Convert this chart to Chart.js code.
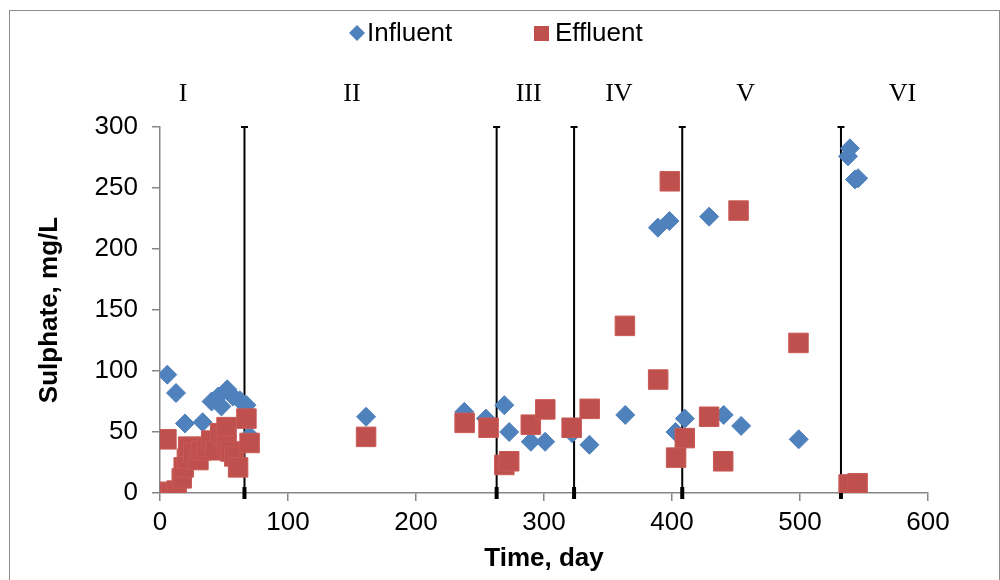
<!DOCTYPE html>
<html>
<head>
<meta charset="utf-8">
<script src="https://cdn.jsdelivr.net/npm/chart.js@4.4.0/dist/chart.umd.min.js"></script>
<style>
  html, body { margin: 0; padding: 0; background: #fff; }
  #wrap { width: 1000px; height: 580px; position: relative; }
</style>
</head>
<body>
<div id="wrap"><canvas id="sulphateChart"></canvas></div>
<script>
// influent sulphate (diamonds)
const influentDays = [5.7, 12.5, 19.5, 33.3, 40.3, 45.4, 48, 52.5, 57.1, 62.4, 67.6, 70,
    161, 237.7, 254.6, 269, 272.8, 289.7, 300.9, 322, 335.5, 363.5,
    389, 398, 402.7, 410, 429, 440.4, 454, 499, 537.5, 539, 543, 545.4];
const influentValues = [97, 82, 57, 58, 75, 79, 71, 85, 79, 76, 72, 47,
    62.5, 66.5, 61, 72, 50, 42, 42, 49, 39.5, 64,
    217.5, 223, 50, 61, 226.5, 64, 55, 44, 276, 282.5, 257, 258];

// effluent sulphate (squares)
const effluentDays = [1.5, 4, 9, 13, 17, 18.5, 5, 21, 22, 26, 30, 32.5, 36.5, 40, 43, 47, 50, 52, 52, 55, 58, 61, 67.5, 70,
    161, 238, 256.7, 269, 272.8, 289.7, 301, 321.6, 335.7, 363.2, 389.2, 398.3, 403.2, 410, 429, 440, 452, 498.8, 538, 545];
const effluentValues = [1, 0, 0, 2, 12, 21, 44, 28, 38, 33, 27, 35, 38, 43, 35, 49, 46, 54, 39, 34, 30, 21, 61, 41,
    46, 57.5, 53.5, 23, 26, 56, 68.5, 53.5, 69, 137, 93, 255.5, 29, 45, 62.5, 26, 231.5, 123, 7, 8];

// operating phases
const phaseBoundaries = [66, 263, 323.5, 408, 532];
const phaseLabels = ['I', 'II', 'III', 'IV', 'V', 'VI'];
const phaseLabelDays = [18, 150, 288, 358.5, 457.5, 580];

const BLUE = '#4F81BD';
const RED = '#C0504D';
const AXIS = '#868686';
const SANS = '"Liberation Sans", Arial, sans-serif';
const SERIF = '"Liberation Serif", "Times New Roman", serif';

function toPoints(xs, ys) {
    return xs.map(function (x, i) { return { x: x, y: ys[i] }; });
}

const datasets = [
    {
        label: 'Influent',
        data: toPoints(influentDays, influentValues),
        pointStyle: 'rectRot',
        pointRadius: 9.5,
        pointHoverRadius: 9.5,
        backgroundColor: BLUE,
        borderColor: BLUE,
        borderWidth: 1,
        order: 2
    },
    {
        label: 'Effluent',
        data: toPoints(effluentDays, effluentValues),
        pointStyle: 'rect',
        pointRadius: 13.8,
        pointHoverRadius: 13.8,
        backgroundColor: RED,
        borderColor: '#C85A57',
        borderWidth: 1,
        order: 1
    }
];

// vertical phase separators, bottom point drawn as a short thick tick
phaseBoundaries.forEach(function (d) {
    datasets.push({
        type: 'line',
        label: '',
        data: [{ x: d, y: 0 }, { x: d, y: 300 }],
        borderColor: '#000',
        borderWidth: 2,
        pointStyle: 'line',
        pointRadius: [6, 3.5],
        pointRotation: [90, 0],
        pointBorderWidth: [4, 2],
        pointBorderColor: '#000',
        clip: false,
        order: 3
    });
});

const decorPlugin = {
    id: 'decor',
    beforeDraw: function (chart) {
        const c = chart.ctx;
        c.save();
        c.fillStyle = '#fff';
        c.fillRect(0, 0, chart.width, chart.height);
        c.restore();
    },
    afterDraw: function (chart) {
        const c = chart.ctx;
        const xs = chart.scales.x;
        c.save();

        // outer frame
        c.strokeStyle = '#8c8c8c';
        c.lineWidth = 1;
        c.strokeRect(9.5, 10.5, 990, 600);

        // legend
        const inf = chart.data.datasets[0];
        const eff = chart.data.datasets[1];
        c.fillStyle = inf.backgroundColor;
        c.beginPath();
        c.moveTo(357, 25); c.lineTo(365, 33); c.lineTo(357, 41); c.lineTo(349, 33);
        c.closePath();
        c.fill();
        c.fillStyle = eff.backgroundColor;
        c.fillRect(534, 26, 15, 15);
        c.fillStyle = '#000';
        c.font = '26px ' + SANS;
        c.textBaseline = 'middle';
        c.textAlign = 'left';
        c.fillText(inf.label, 367, 34);
        c.fillText(eff.label, 555, 34);

        // phase labels
        c.font = '26px ' + SERIF;
        c.textAlign = 'center';
        phaseLabels.forEach(function (t, i) {
            c.fillText(t, xs.getPixelForValue(phaseLabelDays[i]), 94);
        });
        c.restore();
    }
};

const ctx = document.getElementById('sulphateChart').getContext('2d');
const sulphateChart = new Chart(ctx, {
    type: 'scatter',
    data: { datasets: datasets },
    plugins: [decorPlugin],
    options: {
        responsive: true,
        maintainAspectRatio: false,
        animation: false,
        events: [],
        layout: { padding: { left: 30, right: 72, top: 127, bottom: 2 } },
        plugins: {
            legend: { display: false },
            tooltip: { enabled: false }
        },
        scales: {
            x: {
                type: 'linear',
                min: 0,
                max: 600,
                ticks: {
                    stepSize: 100,
                    color: '#000',
                    font: { family: SANS, size: 26 },
                    padding: 6,
                    maxRotation: 0
                },
                grid: { drawOnChartArea: false, drawTicks: true, tickLength: 8, color: AXIS, lineWidth: 1.5 },
                border: { color: AXIS, width: 1.5 },
                title: {
                    display: true,
                    text: 'Time, day',
                    color: '#000',
                    font: { family: SANS, size: 26, weight: 'bold' },
                    padding: { top: 0, bottom: 4 }
                },
                afterFit: function (scale) { scale.height = 85; }
            },
            y: {
                min: 0,
                max: 300,
                ticks: {
                    stepSize: 50,
                    color: '#000',
                    font: { family: SANS, size: 26 },
                    padding: 14
                },
                grid: { drawOnChartArea: false, drawTicks: true, tickLength: 8, color: AXIS, lineWidth: 1.5 },
                border: { color: AXIS, width: 1.5 },
                title: {
                    display: true,
                    text: 'Sulphate, mg/L',
                    color: '#000',
                    font: { family: SANS, size: 26, weight: 'bold' },
                    padding: { top: 4, bottom: 4 }
                },
                afterFit: function (scale) { scale.width = 130; }
            }
        }
    }
});
</script>
</body>
</html>
